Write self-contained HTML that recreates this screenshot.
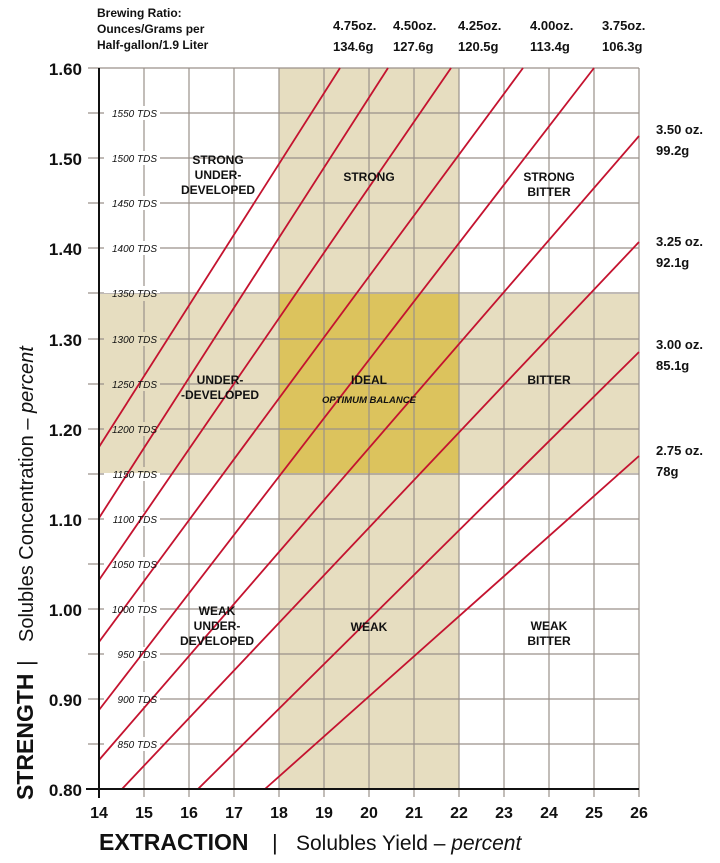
<!DOCTYPE html>
<html><head><meta charset="utf-8"><style>
body{margin:0;background:#fff}
svg{display:block}
text{font-family:"Liberation Sans",sans-serif;fill:#111}
.b{font-weight:bold}
</style></head><body>
<svg width="720" height="863" viewBox="0 0 720 863" xmlns="http://www.w3.org/2000/svg">
<rect x="279" y="68" width="180" height="721" fill="#e6ddc0"/>
<rect x="99" y="294" width="540" height="179" fill="#e6ddc0"/>
<rect x="279" y="294" width="180" height="179" fill="#dcc35d"/>
<g stroke="#9a918a" stroke-width="1.2">
<line x1="144" y1="68" x2="144" y2="797"/><line x1="189" y1="68" x2="189" y2="797"/><line x1="234" y1="68" x2="234" y2="797"/><line x1="279" y1="68" x2="279" y2="797"/><line x1="324" y1="68" x2="324" y2="797"/><line x1="369" y1="68" x2="369" y2="797"/><line x1="414" y1="68" x2="414" y2="797"/><line x1="459" y1="68" x2="459" y2="797"/><line x1="504" y1="68" x2="504" y2="797"/><line x1="549" y1="68" x2="549" y2="797"/><line x1="594" y1="68" x2="594" y2="797"/><line x1="639" y1="68" x2="639" y2="797"/>
<line x1="88" y1="68" x2="639" y2="68"/>
<line x1="88" y1="113" x2="639" y2="113"/><line x1="88" y1="158" x2="639" y2="158"/><line x1="88" y1="203" x2="639" y2="203"/><line x1="88" y1="248" x2="639" y2="248"/><line x1="88" y1="293" x2="639" y2="293"/><line x1="88" y1="339" x2="639" y2="339"/><line x1="88" y1="384" x2="639" y2="384"/><line x1="88" y1="429" x2="639" y2="429"/><line x1="88" y1="474" x2="639" y2="474"/><line x1="88" y1="519" x2="639" y2="519"/><line x1="88" y1="564" x2="639" y2="564"/><line x1="88" y1="609" x2="639" y2="609"/><line x1="88" y1="654" x2="639" y2="654"/><line x1="88" y1="699" x2="639" y2="699"/><line x1="88" y1="744" x2="639" y2="744"/>
</g>
<g fill="#fff">
<rect x="104" y="106" width="56" height="14"/><rect x="104" y="151" width="56" height="14"/><rect x="104" y="196" width="56" height="14"/><rect x="104" y="241" width="56" height="14"/><rect x="104" y="286" width="56" height="7"/>
<rect x="104" y="512" width="56" height="14"/><rect x="104" y="557" width="56" height="14"/><rect x="104" y="602" width="56" height="14"/><rect x="104" y="647" width="56" height="14"/><rect x="104" y="692" width="56" height="14"/><rect x="104" y="737" width="56" height="14"/>
</g>
<g fill="#e6ddc0">
<rect x="104" y="294" width="56" height="7"/><rect x="104" y="332" width="56" height="14"/><rect x="104" y="377" width="56" height="14"/><rect x="104" y="422" width="56" height="14"/><rect x="104" y="467" width="56" height="6"/>
</g>
<rect x="104" y="473" width="56" height="8" fill="#fff"/>
<g stroke="#c4132f" stroke-width="1.8">
<line x1="99" y1="447" x2="340" y2="68"/>
<line x1="99" y1="518" x2="388" y2="68"/>
<line x1="99" y1="580" x2="451" y2="68"/>
<line x1="99" y1="642" x2="523" y2="68"/>
<line x1="99" y1="710" x2="594" y2="68"/>
<line x1="99" y1="760" x2="639" y2="136"/>
<line x1="122" y1="789" x2="639" y2="242"/>
<line x1="198" y1="789" x2="639" y2="352"/>
<line x1="265" y1="789" x2="639" y2="456"/>
</g>
<g font-size="10" font-style="italic" text-anchor="end">
<text x="157" y="117">1550 TDS</text><text x="157" y="162">1500 TDS</text><text x="157" y="207">1450 TDS</text><text x="157" y="252">1400 TDS</text><text x="157" y="297">1350 TDS</text><text x="157" y="343">1300 TDS</text><text x="157" y="388">1250 TDS</text><text x="157" y="433">1200 TDS</text><text x="157" y="478">1150 TDS</text><text x="157" y="523">1100 TDS</text><text x="157" y="568">1050 TDS</text><text x="157" y="613">1000 TDS</text><text x="157" y="658">950 TDS</text><text x="157" y="703">900 TDS</text><text x="157" y="748">850 TDS</text>
</g>
<line x1="99" y1="68" x2="99" y2="798" stroke="#111" stroke-width="2"/>
<line x1="86" y1="789" x2="639" y2="789" stroke="#111" stroke-width="2"/>
<g class="b" font-size="17" text-anchor="end">
<text x="82" y="75" class="b">1.60</text><text x="82" y="165" class="b">1.50</text><text x="82" y="255" class="b">1.40</text><text x="82" y="346" class="b">1.30</text><text x="82" y="436" class="b">1.20</text><text x="82" y="526" class="b">1.10</text><text x="82" y="616" class="b">1.00</text><text x="82" y="706" class="b">0.90</text><text x="82" y="796" class="b">0.80</text>
</g>
<g font-size="16" text-anchor="middle">
<text x="99" y="818" class="b">14</text><text x="144" y="818" class="b">15</text><text x="189" y="818" class="b">16</text><text x="234" y="818" class="b">17</text><text x="279" y="818" class="b">18</text><text x="324" y="818" class="b">19</text><text x="369" y="818" class="b">20</text><text x="414" y="818" class="b">21</text><text x="459" y="818" class="b">22</text><text x="504" y="818" class="b">23</text><text x="549" y="818" class="b">24</text><text x="594" y="818" class="b">25</text><text x="639" y="818" class="b">26</text>
</g>
<text x="99" y="850" font-size="23" class="b">EXTRACTION</text>
<text x="272" y="850" font-size="22">|</text>
<text x="296" y="850" font-size="21" fill="#222">Solubles Yield – <tspan font-style="italic">percent</tspan></text>
<g transform="translate(33,800) rotate(-90)">
<text x="0" y="0" font-size="23" class="b">STRENGTH</text>
<text x="134" y="0" font-size="22">|</text>
<text x="158" y="0" font-size="20" fill="#222">Solubles Concentration – <tspan font-style="italic">percent</tspan></text>
</g>
<g font-size="12" class="b">
<text x="97" y="17" class="b">Brewing Ratio:</text>
<text x="97" y="33" class="b">Ounces/Grams per</text>
<text x="97" y="49" class="b">Half-gallon/1.9 Liter</text>
</g>
<g font-size="13" class="b">
<text x="333" y="30" class="b">4.75oz.</text><text x="333" y="51" class="b">134.6g</text>
<text x="393" y="30" class="b">4.50oz.</text><text x="393" y="51" class="b">127.6g</text>
<text x="458" y="30" class="b">4.25oz.</text><text x="458" y="51" class="b">120.5g</text>
<text x="530" y="30" class="b">4.00oz.</text><text x="530" y="51" class="b">113.4g</text>
<text x="602" y="30" class="b">3.75oz.</text><text x="602" y="51" class="b">106.3g</text>
<text x="656" y="134" class="b">3.50 oz.</text><text x="656" y="155" class="b">99.2g</text>
<text x="656" y="246" class="b">3.25 oz.</text><text x="656" y="267" class="b">92.1g</text>
<text x="656" y="349" class="b">3.00 oz.</text><text x="656" y="370" class="b">85.1g</text>
<text x="656" y="455" class="b">2.75 oz.</text><text x="656" y="476" class="b">78g</text>
</g>
<g font-size="12" class="b" text-anchor="middle">
<text x="218" y="164" class="b">STRONG</text><text x="218" y="179" class="b">UNDER-</text><text x="218" y="194" class="b">DEVELOPED</text>
<text x="369" y="181" class="b">STRONG</text>
<text x="549" y="181" class="b">STRONG</text><text x="549" y="196" class="b">BITTER</text>
<text x="220" y="384" class="b">UNDER-</text><text x="220" y="399" class="b">-DEVELOPED</text>
<text x="369" y="384" class="b">IDEAL</text>
<text x="369" y="403" font-size="9.5" font-style="italic" class="b">OPTIMUM BALANCE</text>
<text x="549" y="384" class="b">BITTER</text>
<text x="217" y="615" class="b">WEAK</text><text x="217" y="630" class="b">UNDER-</text><text x="217" y="645" class="b">DEVELOPED</text>
<text x="369" y="631" class="b">WEAK</text>
<text x="549" y="630" class="b">WEAK</text><text x="549" y="645" class="b">BITTER</text>
</g>
</svg>
</body></html>
